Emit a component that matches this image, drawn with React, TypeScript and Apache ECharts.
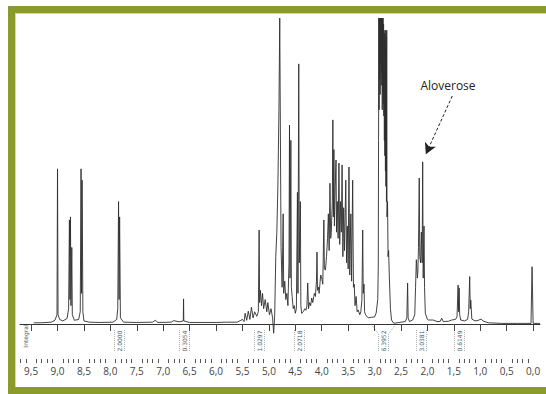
import React, { useEffect, useRef } from 'react';
import * as echarts from 'echarts';

const X_MIN = -0.13;
const X_MAX = 9.71;

const MAJOR_TICKS = [9.5, 9.0, 8.5, 8.0, 7.5, 7.0, 6.5, 6.0, 5.5, 5.0, 4.5, 4.0, 3.5, 3.0, 2.5, 2.0, 1.5, 1.0, 0.5, 0.0];

// [ppm, relative intensity]
const TRACE: [number, number][] = [
  [9.45, 0.4], [9.3, 0.4], [9.12, 0.6], [9.05, 1.2], [9.01, 3], [9.0, 50.7], [8.99, 3], [8.96, 1.5], [8.9, 1],
  [8.82, 1.8], [8.79, 5], [8.775, 34], [8.765, 8], [8.755, 35], [8.745, 6], [8.73, 25], [8.72, 3], [8.68, 1.2],
  [8.6, 1.5], [8.57, 4], [8.555, 50.7], [8.545, 10], [8.535, 47], [8.52, 4], [8.5, 1], [8.4, 0.6], [8.2, 0.5],
  [7.95, 0.6], [7.88, 1.5], [7.86, 5], [7.845, 40], [7.835, 8], [7.825, 35], [7.81, 2], [7.75, 0.6], [7.5, 0.5],
  [7.2, 0.6], [7.15, 1.2], [7.1, 0.5], [6.85, 0.6], [6.8, 1.1], [6.7, 0.7], [6.62, 1], [6.615, 8.2], [6.61, 1],
  [6.5, 0.5], [6.0, 0.5], [5.8, 0.6], [5.6, 0.6], [5.5, 1.5], [5.47, 0.8], [5.45, 3.5], [5.42, 1.2], [5.39, 4.2],
  [5.36, 1.5], [5.33, 5.5], [5.3, 2], [5.27, 4], [5.23, 2.5], [5.2, 4], [5.185, 30.7], [5.175, 7], [5.16, 11],
  [5.14, 6], [5.12, 10], [5.1, 5], [5.07, 8], [5.04, 4], [5.02, 7], [4.99, 3], [4.96, 5], [4.93, 2], [4.91, -3],
  [4.89, 3], [4.87, 22], [4.85, 30], [4.83, 45], [4.81, 70], [4.795, 100], [4.785, 100], [4.775, 40], [4.77, 25],
  [4.75, 12], [4.73, 36], [4.72, 10], [4.7, 14], [4.68, 8], [4.66, 10], [4.64, 6], [4.62, 20], [4.61, 65],
  [4.6, 15], [4.585, 60], [4.575, 12], [4.56, 9], [4.54, 5], [4.52, 6], [4.5, 3.5], [4.48, 5], [4.46, 43],
  [4.45, 10], [4.435, 85], [4.425, 20], [4.405, 40], [4.395, 6], [4.38, 3.5], [4.35, 4], [4.32, 5], [4.3, 4.5],
  [4.28, 6], [4.265, 13.4], [4.25, 5], [4.23, 7], [4.21, 6], [4.19, 8.5], [4.17, 7], [4.15, 9], [4.14, 10],
  [4.12, 9], [4.1, 14], [4.09, 23.5], [4.08, 11], [4.06, 12], [4.05, 10], [4.02, 16], [4.0, 15], [3.98, 13],
  [3.96, 34], [3.95, 18], [3.93, 17.6], [3.91, 22], [3.89, 28], [3.875, 36], [3.86, 24], [3.845, 46], [3.83, 28],
  [3.82, 30], [3.8, 40], [3.79, 66.7], [3.78, 35], [3.77, 57], [3.76, 32], [3.745, 45], [3.73, 53.6], [3.72, 30],
  [3.705, 40], [3.69, 28], [3.675, 52.6], [3.66, 26], [3.645, 40], [3.63, 30], [3.615, 52], [3.6, 22], [3.585, 38],
  [3.57, 24], [3.545, 47], [3.53, 20], [3.515, 32], [3.5, 18], [3.485, 51.3], [3.47, 16], [3.45, 36], [3.435, 14],
  [3.415, 47], [3.4, 12], [3.385, 13], [3.37, 6], [3.35, 9], [3.33, 4], [3.31, 4.6], [3.28, 3], [3.26, 4],
  [3.24, 8], [3.225, 30.7], [3.215, 10], [3.2, 13], [3.19, 4], [3.17, 3], [3.12, 2], [3.06, 2.2], [3.0, 2.3],
  [2.97, 3.6], [2.94, 8], [2.93, 19], [2.925, 60], [2.92, 100], [2.915, 70], [2.91, 100], [2.905, 80], [2.9, 100],
  [2.895, 75], [2.89, 100], [2.885, 85], [2.88, 100], [2.875, 78], [2.87, 100], [2.865, 82], [2.86, 100],
  [2.855, 70], [2.85, 100], [2.845, 76], [2.84, 100], [2.835, 72], [2.83, 98], [2.825, 68], [2.82, 96],
  [2.815, 60], [2.81, 95], [2.805, 55], [2.8, 90], [2.795, 50], [2.79, 96], [2.785, 45], [2.78, 94], [2.775, 40],
  [2.77, 96], [2.765, 35], [2.755, 40], [2.745, 22], [2.735, 24], [2.72, 15], [2.7, 5], [2.68, 1.3], [2.64, 0.3],
  [2.6, 0.3], [2.5, 0.6], [2.42, 0.8], [2.39, 2], [2.375, 13.4], [2.365, 2], [2.34, 0.8], [2.28, 1.3], [2.24, 3],
  [2.225, 12], [2.21, 21], [2.19, 15], [2.18, 17.6], [2.17, 25], [2.155, 47.7], [2.145, 22], [2.13, 20],
  [2.115, 30], [2.1, 20], [2.09, 53], [2.08, 15], [2.065, 32], [2.055, 12], [2.04, 3.5], [2.0, 1.5], [1.98, 1.3],
  [1.89, 1.3], [1.82, 0.8], [1.76, 0.8], [1.73, 1.9], [1.7, 0.8], [1.6, 0.9], [1.54, 1.3], [1.47, 1.5],
  [1.44, 2.4], [1.42, 12.7], [1.41, 4], [1.4, 11.8], [1.39, 3], [1.37, 1.3], [1.3, 1], [1.24, 1.5], [1.22, 4],
  [1.2, 15.5], [1.19, 5], [1.18, 7.8], [1.16, 1.6], [1.1, 1], [1.04, 1.2], [0.98, 1.6], [0.95, 1], [0.85, 0.4],
  [0.6, 0.2], [0.3, 0.2], [0.04, 0.2], [0.02, 18.7], [0.0, 0.2], [-0.13, 0.2],
];

// integral regions: centre ppm and printed value
const INTEGRAL_PPM = [7.83, 6.61, 5.18, 4.43, 2.84, 2.12, 1.41];
const INTEGRAL_TEXT = ['2.0000', '0.3054', '1.0297', '2.0718', '6.3952', '3.0381', '0.6149'];

const ANNOTATION = 'Aloverose';
const ARROW_FROM: [number, number] = [1.53, 74.5];
const ARROW_TO: [number, number] = [2.03, 55.5];

const GREEN = '#8a9b2b';

export default function App() {
  const ref = useRef<HTMLDivElement>(null);

  useEffect(() => {
    const chart = echarts.init(ref.current!, null, { renderer: 'svg' });
    const minorTicks: number[] = [];
    for (let i = 0; i <= 97; i++) {
      const v = Math.round(i) / 10;
      if (i % 5 !== 0) minorTicks.push(v);
    }
    const grid = { left: 20, right: 6, top: 18, bottom: 70 };
    chart.setOption({
      animation: false,
      backgroundColor: '#ffffff',
      grid,
      xAxis: [
        {
          type: 'value',
          min: X_MIN,
          max: X_MAX,
          inverse: true,
          offset: 35,
          position: 'bottom',
          splitLine: { show: false },
          axisLine: { show: true, lineStyle: { color: '#333', width: 1 } },
          axisTick: { show: true, customValues: MAJOR_TICKS, length: 7, lineStyle: { color: '#444', width: 1 } },
          axisLabel: {
            show: true,
            customValues: MAJOR_TICKS,
            margin: 7,
            fontSize: 10,
            fontFamily: 'Open Sans, Noto Sans, sans-serif',
            color: '#444',
            formatter: (v: number) => v.toFixed(1).replace('.', ','),
          },
        },
        {
          type: 'value',
          min: X_MIN,
          max: X_MAX,
          inverse: true,
          offset: 35,
          position: 'bottom',
          splitLine: { show: false },
          axisLine: { show: false },
          axisTick: { show: true, customValues: minorTicks, length: 4, lineStyle: { color: '#555', width: 1 } },
          axisLabel: { show: false },
        },
      ],
      yAxis: { type: 'value', min: 0, max: 100, show: false },
      series: [
        {
          type: 'line',
          data: TRACE,
          xAxisIndex: 0,
          showSymbol: false,
          symbol: 'none',
          clip: false,
          lineStyle: { color: '#2e2e2e', width: 0.9 },
          markLine: {
            silent: true,
            symbol: ['none', 'arrow'],
            symbolSize: [9, 11],
            label: { show: false },
            lineStyle: { color: '#222', width: 1, type: [3, 2] },
            data: [[{ coord: ARROW_FROM }, { coord: ARROW_TO }]],
          },
        },
      ],
    });

    const px = (p: number) => chart.convertToPixel({ xAxisIndex: 0 }, p) as number;
    const graphics: any[] = [];
    // frame
    graphics.push({ type: 'rect', shape: { x: 8, y: 6, width: 538, height: 7 }, style: { fill: GREEN }, z: 100 });
    graphics.push({ type: 'rect', shape: { x: 8, y: 6, width: 7, height: 388 }, style: { fill: GREEN }, z: 100 });
    graphics.push({ type: 'rect', shape: { x: 8, y: 387, width: 538, height: 7 }, style: { fill: GREEN }, z: 100 });
    graphics.push({ type: 'line', shape: { x1: 15.5, y1: 13.5, x2: 546, y2: 13.5 }, style: { stroke: '#d3dba0', lineWidth: 1 }, z: 100 });
    graphics.push({ type: 'line', shape: { x1: 15.5, y1: 13.5, x2: 15.5, y2: 387 }, style: { stroke: '#d3dba0', lineWidth: 1 }, z: 100 });

    // annotation text
    graphics.push({
      type: 'text', x: 448, y: 85,
      style: { text: ANNOTATION, fill: '#222', font: '12px "Open Sans", "Noto Sans", sans-serif', align: 'center', verticalAlign: 'middle' },
    });

    // integral label
    graphics.push({
      type: 'text', x: 25, y: 336, rotation: Math.PI / 2,
      style: { text: 'Integral', fill: '#555', font: '6px "DejaVu Sans", sans-serif', align: 'center', verticalAlign: 'middle' },
    });

    INTEGRAL_PPM.forEach((p, i) => {
      const x = Math.round(px(p)) + 0.5;
      const wide = p > 2.5 && p < 3.0;
      graphics.push({
        type: 'text', x, y: 341, rotation: Math.PI / 2,
        style: { text: INTEGRAL_TEXT[i], fill: '#555', font: '6px "DejaVu Sans", sans-serif', align: 'center', verticalAlign: 'middle' },
      });
      const dash = { stroke: '#999', lineWidth: 0.8, lineDash: [1, 1] };
      if (wide) {
        graphics.push({ type: 'polyline', shape: { points: [[x - 11, 326], [x - 5, 334], [x - 5, 352]] }, style: { ...dash, fill: null } });
        graphics.push({ type: 'polyline', shape: { points: [[x + 11, 326], [x + 5, 334], [x + 5, 352]] }, style: { ...dash, fill: null } });
      } else {
        graphics.push({ type: 'line', shape: { x1: x - 5, y1: 330, x2: x - 5, y2: 352 }, style: dash });
        graphics.push({ type: 'line', shape: { x1: x + 5, y1: 330, x2: x + 5, y2: 352 }, style: dash });
      }
    });

    chart.setOption({ graphic: graphics });
    return () => chart.dispose();
  }, []);

  return (
    <div
      ref={ref}
      style={{ position: 'absolute', left: 0, top: 0, width: 546, height: 394, background: '#fff' }}
    />
  );
}
